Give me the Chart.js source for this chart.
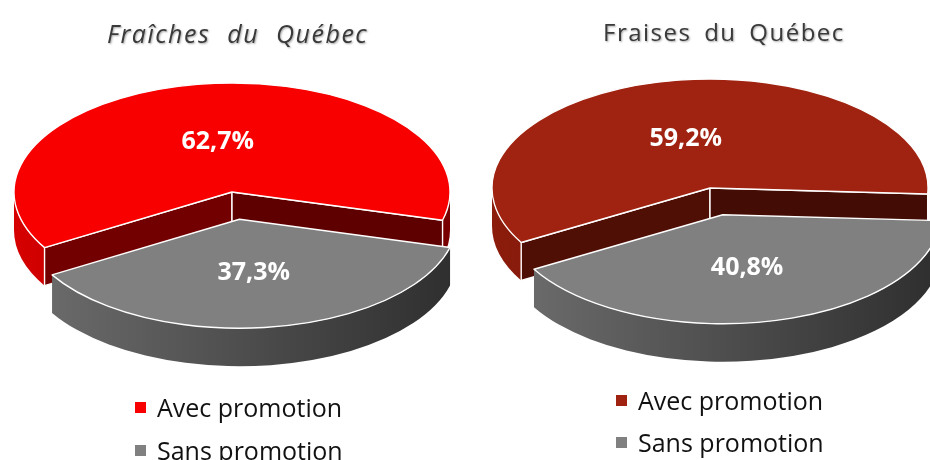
<!DOCTYPE html>
<html>
<head>
<meta charset="utf-8">
<script src="https://cdn.jsdelivr.net/npm/chart.js@4.4.1/dist/chart.umd.min.js"></script>
<style>
  body { margin: 0; background: #fff; }
  #wrap { position: relative; width: 930px; height: 460px; overflow: hidden; font-family: "Open Sans", sans-serif; }
  canvas { position: absolute; top: 0; }
  .title { position: absolute; color: #3a3a3a; white-space: nowrap;
           text-shadow: 1px 1px 2px rgba(0,0,0,0.35); }
  .legend { position: absolute; font-size: 25px; line-height: 30px; color: #111; }
  .legend .row { display: flex; align-items: center; height: 30px; position: absolute; white-space: nowrap; }
  .legend .box { width: 11px; height: 11px; margin-right: 11px; }
</style>
</head>
<body>
<div id="wrap">
  <canvas id="pieA" width="465" height="460" style="left:0"></canvas>
  <canvas id="pieB" width="465" height="460" style="left:465px"></canvas>
  <div class="title" id="titleA" style="left:107px; top:21px; font-size:25px; line-height:25px; font-style:italic; letter-spacing:1.5px; word-spacing:9px"></div>
  <div class="title" id="titleB" style="left:603px; top:20px; font-size:24px; line-height:24px; letter-spacing:1.5px; word-spacing:5px"></div>
  <div class="legend" id="legA" style="left:135px; top:392px"></div>
  <div class="legend" id="legB" style="left:616px; top:385px"></div>
</div>
<script>
const categories = ['Avec promotion', 'Sans promotion'];
const fraichesValues = [62.7, 37.3];
const fraisesValues = [59.2, 40.8];
const titles = ['Fraîches du Québec', 'Fraises du Québec'];

// top, wall left -> right, cut faces (start, end)
const stylesA = {
    top: ['#F80000', '#808080'],
    wall: [['#D60000', '#780000'], ['#6E6E6E', '#2E2E2E']],
    face: [['#730000', '#5F0000'], ['#555', '#444']]
};
const stylesB = {
    top: ['#A02210', '#808080'],
    wall: [['#8C1C0C', '#4A0E05'], ['#6E6E6E', '#2E2E2E']],
    face: [['#500F05', '#430C04'], ['#555', '#444']]
};

const pie3d = {
    id: 'pie3d',
    beforeDatasetsDraw(chart, args, opts) {
        const ctx = chart.ctx;
        const arcs = chart.getDatasetMeta(0).data;
        const k = opts.tilt, depth = opts.depth, st = opts.styles;
        const TAU = Math.PI * 2;

        const geo = arcs.map((arc) => {
            const p = arc.getProps(['x', 'y', 'startAngle', 'endAngle', 'outerRadius']);
            const mid = (p.startAngle + p.endAngle) / 2;
            const off = arc.options.offset || 0;
            return {
                cx: p.x + Math.cos(mid) * off,
                cy: p.y + Math.sin(mid) * off * k,
                r: p.outerRadius, ry: p.outerRadius * k,
                a0: p.startAngle, a1: p.endAngle, mid
            };
        });

        ctx.save();
        ctx.strokeStyle = '#fff';
        ctx.lineWidth = 1.4;
        ctx.lineJoin = 'round';

        geo.forEach((g, i) => {
            // outer wall, only the front half of the ellipse
            const grad = ctx.createLinearGradient(g.cx - g.r, 0, g.cx + g.r, 0);
            grad.addColorStop(0, st.wall[i][0]);
            grad.addColorStop(1, st.wall[i][1]);
            ctx.fillStyle = grad;
            const n0 = Math.floor(g.a0 / TAU) - 1;
            for (let n = n0; n <= n0 + 3; n++) {
                const b0 = Math.max(g.a0, n * TAU), b1 = Math.min(g.a1, n * TAU + Math.PI);
                if (b1 <= b0) continue;
                ctx.beginPath();
                ctx.ellipse(g.cx, g.cy, g.r, g.ry, 0, b0, b1, false);
                ctx.lineTo(g.cx + g.r * Math.cos(b1), g.cy + g.ry * Math.sin(b1) + depth);
                ctx.ellipse(g.cx, g.cy + depth, g.r, g.ry, 0, b1, b0, true);
                ctx.closePath();
                ctx.fill();
            }

            // cut faces
            [[g.a0, Math.cos(g.a0) < 0], [g.a1, Math.cos(g.a1) > 0]].forEach(([a, visible], j) => {
                if (!visible) return;
                const ex = g.cx + g.r * Math.cos(a), ey = g.cy + g.ry * Math.sin(a);
                ctx.beginPath();
                ctx.moveTo(g.cx, g.cy);
                ctx.lineTo(ex, ey);
                ctx.lineTo(ex, ey + depth);
                ctx.lineTo(g.cx, g.cy + depth);
                ctx.closePath();
                ctx.fillStyle = st.face[i][j];
                ctx.fill();
                ctx.stroke();
            });

            // top
            ctx.beginPath();
            ctx.moveTo(g.cx, g.cy);
            ctx.ellipse(g.cx, g.cy, g.r, g.ry, 0, g.a0, g.a1, false);
            ctx.closePath();
            ctx.fillStyle = st.top[i];
            ctx.fill();
            ctx.stroke();
        });

        // value labels
        const values = chart.data.datasets[0].data;
        ctx.fillStyle = '#fff';
        ctx.font = 'bold 25px "Open Sans"';
        ctx.textAlign = 'center';
        ctx.textBaseline = 'middle';
        geo.forEach((g, i) => {
            const rr = g.r * opts.labelRadius;
            const txt = values[i].toFixed(1).replace('.', ',') + '%';
            ctx.fillText(txt, g.cx + Math.cos(g.mid) * rr, g.cy + Math.sin(g.mid) * rr * k + 2);
        });
        ctx.restore();
        return false;
    }
};

function makePie(id, values, styles, rotation, padding) {
    return new Chart(document.getElementById(id), {
        type: 'pie',
        data: {
            labels: categories,
            datasets: [{
                data: values,
                backgroundColor: styles.top,
                offset: [0, 55],
                borderWidth: 0
            }]
        },
        options: {
            responsive: false,
            animation: false,
            rotation: rotation,
            radius: 218,
            layout: {padding: padding},
            events: [],
            plugins: {
                legend: {display: false},
                tooltip: {enabled: false},
                pie3d: {tilt: 0.5, depth: 38, styles: styles, labelRadius: 0.48}
            }
        },
        plugins: [pie3d]
    });
}

function buildLegend(chart, el, gap) {
    const colors = chart.data.datasets[0].backgroundColor;
    chart.data.labels.forEach((label, i) => {
        const row = document.createElement('div');
        row.className = 'row';
        row.style.top = (i * gap) + 'px';
        const box = document.createElement('span');
        box.className = 'box';
        box.style.background = colors[i];
        row.appendChild(box);
        row.appendChild(document.createTextNode(label));
        el.appendChild(row);
    });
}

function main() {
    document.getElementById('titleA').textContent = titles[0];
    document.getElementById('titleB').textContent = titles[1];
    const chartA = makePie('pieA', fraichesValues, stylesA, 239.3, {left: 0, right: 1, top: 0, bottom: 76});
    const chartB = makePie('pieB', fraisesValues, stylesB, 240, {left: 25, right: 0, top: 0, bottom: 84});
    buildLegend(chartA, document.getElementById('legA'), 43);
    buildLegend(chartB, document.getElementById('legB'), 42);
}

main()
</script>
</body>
</html>
